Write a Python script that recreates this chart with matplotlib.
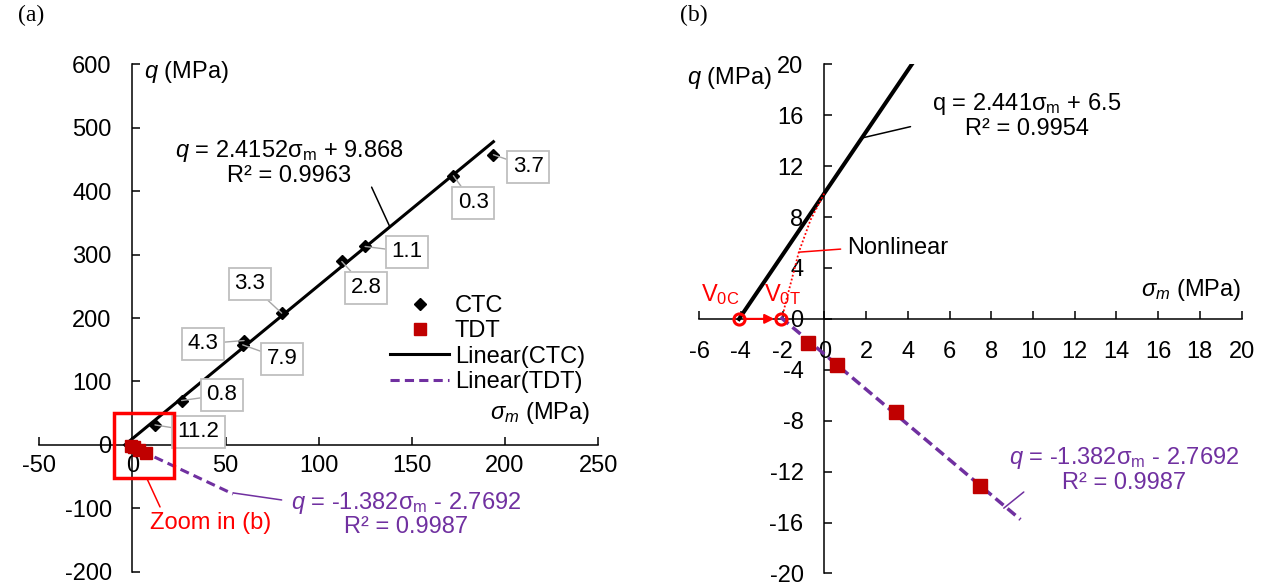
import numpy as np
import matplotlib
matplotlib.use('Agg')
from matplotlib import pyplot as plt
from matplotlib.patches import Rectangle

plt.rcParams['font.family'] = ['Liberation Sans', 'DejaVu Sans']
plt.rcParams['mathtext.fontset'] = 'custom'
plt.rcParams['mathtext.rm'] = 'Liberation Sans'
plt.rcParams['mathtext.it'] = 'Liberation Sans:italic'
plt.rcParams['mathtext.bf'] = 'Liberation Sans:bold'
plt.rcParams['axes.unicode_minus'] = False

##############################################
## data
##############################################
ctc_sigma = [193.8, 172.3, 124.9, 112.4, 80.1, 59.9, 59.2, 26.4, 12.1]
ctc_q = [457.4, 424.3, 312.8, 289.1, 207.7, 164.5, 157.7, 69.9, 31.5]
ctc_tags = ['3.7', '0.3', '1.1', '2.8', '3.3', '4.3', '7.9', '0.8', '11.2']

tdt_sigma = [-0.76, 0.61, 3.42, 7.47]
tdt_q = [-1.92, -3.66, -7.29, -13.1]

# trend lines (slope, intercept)
ctc_k, ctc_b = 2.4152, 9.868
tdt_k, tdt_b = -1.382, -2.7692

v0c = -4.09
v0t = -2.1
nonlin_sigma = [-1.95, -1.86, -1.22, -0.66, 0.0]
nonlin_q = [0.6, 1.23, 5.26, 7.78, 9.87]

# tag box centres (a)
tag_pos = [(212.4, 438.5), (182.9, 381.7), (147.4, 304.4), (125.4, 247.6),
           (63.1, 254.0), (37.9, 159.3), (80.3, 135.6), (48.1, 78.9), (35.2, 20.5)]

purple = '#7030A0'
dred = '#C00000'
red = '#FF0000'

fig = plt.figure(figsize=(12.65, 5.88), dpi=100)
ax1 = fig.add_axes([0.0311, 0.0276, 0.4417, 0.8631])
ax2 = fig.add_axes([0.5527, 0.0247, 0.4288, 0.8660])

for ax in (ax1, ax2):
    ax.spines['left'].set_position(('data', 0))
    ax.spines['bottom'].set_position(('data', 0))
    ax.spines['top'].set_visible(False)
    ax.spines['right'].set_visible(False)
    ax.spines['left'].set_linewidth(1.1)
    ax.spines['bottom'].set_linewidth(1.1)
    ax.patch.set_alpha(0)
    ax.tick_params(direction='in', length=6, width=1.1, labelsize=17)

##############################################
## (a)
##############################################
ax1.set_xlim(-50, 250)
ax1.set_ylim(-200, 600)
ax1.set_xticks(np.arange(-50, 251, 50))
ax1.set_yticks(np.arange(-200, 601, 100))
ax1.tick_params(axis='x', pad=7)
ax1.tick_params(axis='y', pad=15)

xs = np.array([v0c, max(ctc_sigma)])
l_ctc, = ax1.plot(xs, ctc_k * xs + ctc_b, color='black', lw=2.2, zorder=3)
xs = np.array([v0t, 54])
l_tdt, = ax1.plot(xs, tdt_k * xs + tdt_b, color=purple, lw=2.2, dashes=(3, 1.7), zorder=3)
p_ctc, = ax1.plot(ctc_sigma, ctc_q, 'D', color='black', ms=6.5, ls='none', zorder=4)
p_tdt, = ax1.plot(tdt_sigma, tdt_q, 's', color=dred, ms=8.5, ls='none', zorder=4)

for s, q, t, (tx, ty) in zip(ctc_sigma, ctc_q, ctc_tags, tag_pos):
    ax1.annotate(t, xy=(s, q), xytext=(tx, ty), ha='center', va='center', fontsize=16,
                 bbox=dict(boxstyle='square,pad=0.25', fc='white', ec='#BFBFBF', lw=1.3),
                 arrowprops=dict(arrowstyle='-', color='#A6A6A6', lw=1, shrinkA=0, shrinkB=0),
                 zorder=5)

ax1.legend([p_ctc, p_tdt, l_ctc, l_tdt], ['CTC', 'TDT', 'Linear(CTC)', 'Linear(TDT)'],
           loc='upper left', bbox_to_anchor=(390 / 1265, 1 - 295 / 588),
           bbox_transform=fig.transFigure, frameon=False, fontsize=17,
           borderpad=0, borderaxespad=0, handlelength=2.5, handletextpad=0.25,
           labelspacing=0.14)

ax1.text(6, 588, r'$\mathit{q}$ (MPa)', fontsize=17, va='center')
ax1.text(192, 50.5, r'$\mathit{σ_m}$ (MPa)', fontsize=17, va='center')

ax1.text(84, 445, '$\\mathit{q}$ = 2.4152$\\mathregular{σ_m}$ + 9.868\nR² = 0.9963',
         fontsize=17, ha='center', va='center', multialignment='center', linespacing=1.05)
ax1.annotate('', xy=(138, 345), xytext=(128.4, 406.3),
             arrowprops=dict(arrowstyle='-', color='black', lw=1.1, shrinkA=0, shrinkB=0))

ax1.text(147, -109, '$\\mathit{q}$ = -1.382$\\mathregular{σ_m}$ - 2.7692\nR² = 0.9987',
         fontsize=17, ha='center', va='center', multialignment='center', linespacing=1.05,
         color=purple)
ax1.annotate('', xy=(54, -75.7), xytext=(80.1, -86.8),
             arrowprops=dict(arrowstyle='-', color=purple, lw=1.1, shrinkA=0, shrinkB=0))

ax1.add_patch(Rectangle((-9.9, -52), 32.2, 102.5, fill=False, ec=red, lw=2.5, zorder=6))
ax1.annotate('', xy=(7.6, -52), xytext=(14.8, -97.8),
             arrowprops=dict(arrowstyle='-', color=red, lw=1.1, shrinkA=0, shrinkB=0))
ax1.text(42, -123, 'Zoom in (b)', fontsize=17, ha='center', va='center', color=red)

##############################################
## (b)
##############################################
ax2.set_xlim(-6, 20)
ax2.set_ylim(-20, 20)
ax2.set_xticks(np.arange(-6, 21, 2))
ax2.set_yticks(np.arange(-20, 21, 4))
ax2.tick_params(axis='x', pad=16)
ax2.tick_params(axis='y', pad=15)

xs = np.array([v0c, (20 - ctc_b) / ctc_k])
ax2.plot(xs, ctc_k * xs + ctc_b, color='black', lw=2.9, zorder=3)
xs = np.array([v0t, 9.4])
ax2.plot(xs, tdt_k * xs + tdt_b, color=purple, lw=2.5, dashes=(3, 1.5), zorder=3)
ax2.plot(tdt_sigma, tdt_q, 's', color=dred, ms=10.5, ls='none', zorder=4)
ax2.plot(nonlin_sigma, nonlin_q, color=red, lw=1.3, ls=(0, (1, 1.2)), zorder=3)
ax2.plot([v0c, v0t], [0, 0], 'o', mfc='none', mec=red, mew=2.2, ms=8, ls='none', zorder=6)
ax2.annotate('', xy=(v0t - 0.3, 0), xytext=(v0c + 0.25, 0),
             arrowprops=dict(arrowstyle='-|>', color=red, lw=1.5, mutation_scale=14,
                             shrinkA=0, shrinkB=0), zorder=6)

ax2.text(-6.59, 18.9, r'$\mathit{q}$ (MPa)', fontsize=17, va='center')
ax2.text(15.17, 2.28, r'$\mathit{σ_m}$ (MPa)', fontsize=17, va='center')

ax2.text(9.7, 16.0, 'q = 2.441$\\mathregular{σ_m}$ + 6.5\nR² = 0.9954',
         fontsize=17, ha='center', va='center', multialignment='center', linespacing=1.05)
ax2.annotate('', xy=(1.78, 14.2), xytext=(4.13, 15.1),
             arrowprops=dict(arrowstyle='-', color='black', lw=1.1, shrinkA=0, shrinkB=0))

ax2.text(1.08, 5.58, 'Nonlinear', fontsize=17, va='center')
ax2.annotate('', xy=(-1.22, 5.24), xytext=(0.78, 5.48),
             arrowprops=dict(arrowstyle='-', color=red, lw=1.1, shrinkA=0, shrinkB=0))

ax2.text(-5.89, 1.89, r'$\mathregular{V_{0C}}$', fontsize=17, va='center', color=red)
ax2.text(-2.9, 1.89, r'$\mathregular{V_{0T}}$', fontsize=17, va='center', color=red)

ax2.text(14.36, -11.8, '$\\mathit{q}$ = -1.382$\\mathregular{σ_m}$ - 2.7692\nR² = 0.9987',
         fontsize=17, ha='center', va='center', multialignment='center', linespacing=1.05,
         color=purple)
ax2.annotate('', xy=(8.6, -14.87), xytext=(9.56, -13.6),
             arrowprops=dict(arrowstyle='-', color=purple, lw=1.1, shrinkA=0, shrinkB=0))

fig.text(18 / 1265, 1 - 15 / 588, '(a)', fontsize=17, family='Liberation Serif',
         ha='left', va='center')
fig.text(680 / 1265, 1 - 15 / 588, '(b)', fontsize=17, family='Liberation Serif',
         ha='left', va='center')

fig.savefig('out.png', dpi=100)
